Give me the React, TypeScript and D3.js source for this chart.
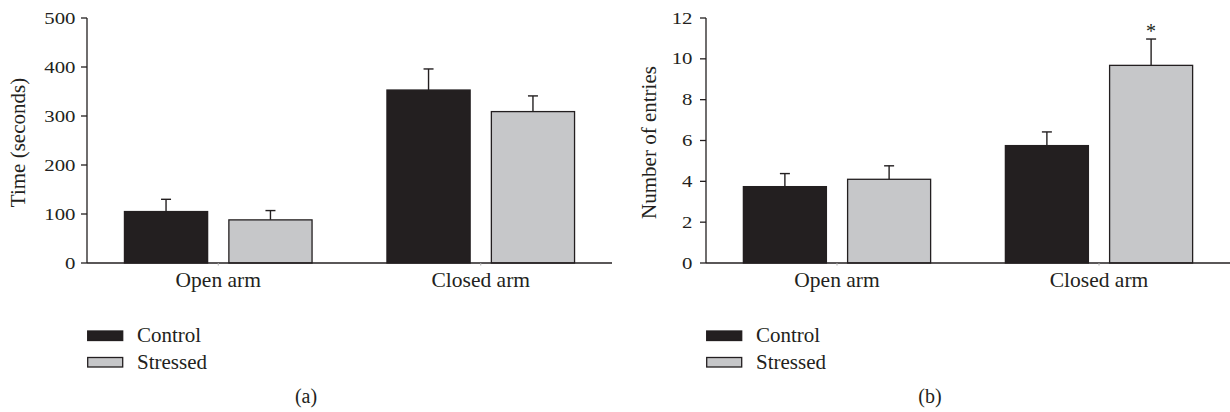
import React, { useRef, useEffect } from 'react';
import * as d3 from 'd3';

// categories / series
const categories = ['Open arm', 'Closed arm'];
const groups = ['Control', 'Stressed'];
const groupFill = ['#231f20', '#c6c7c9'];

// panel (a) time spent
const timeControl = [105, 353];
const timeControlSem = [25, 43];
const timeStressed = [88, 309];
const timeStressedSem = [19, 32];
const timeTicks = [0, 100, 200, 300, 400, 500];

// panel (b) number of entries
const entriesControl = [3.74, 5.75];
const entriesControlSem = [0.64, 0.67];
const entriesStressed = [4.1, 9.68];
const entriesStressedSem = [0.66, 1.29];
const entriesStressedMark = ['', '*'];
const entriesTicks = [0, 2, 4, 6, 8, 10, 12];

const W = 1230;
const H = 412;
const INK = '#231f20';
const FONT = '"Liberation Serif", "Times New Roman", serif';

const Chart = () => {
  const ref = useRef<HTMLDivElement>(null);

  useEffect(() => {
    document.body.style.margin = '0';

    const root = d3.select(ref.current);
    root.selectAll('*').remove();
    const svg = root
      .append('svg')
      .attr('width', W)
      .attr('height', H)
      .attr('viewBox', [0, 0, W, H])
      .style('display', 'block')
      .style('font-family', FONT);

    const yTop = 18;
    const yBottom = 263;

    const panels = [
      {
        left: 87, right: 612, ticks: timeTicks, max: 500,
        title: 'Time (seconds)', titleX: 25, labelGap: 11.5,
        letter: '(a)', letterX: 306,
        series: [
          { v: timeControl, e: timeControlSem, mark: ['', ''] },
          { v: timeStressed, e: timeStressedSem, mark: ['', ''] },
        ],
      },
      {
        left: 706, right: 1230, ticks: entriesTicks, max: 12,
        title: 'Number of entries', titleX: 656, labelGap: 13.5,
        letter: '(b)', letterX: 930,
        series: [
          { v: entriesControl, e: entriesControlSem, mark: ['', ''] },
          { v: entriesStressed, e: entriesStressedSem, mark: entriesStressedMark },
        ],
      },
    ];

    panels.forEach(p => {
      const g = svg.append('g');

      const x = d3.scaleBand<string>()
        .domain(categories)
        .range([p.left, p.right])
        .paddingInner(0.28)
        .paddingOuter(0.14);
      const xg = d3.scaleBand<string>()
        .domain(groups)
        .range([0, x.bandwidth()])
        .paddingInner(0.19);
      const y = d3.scaleLinear().domain([0, p.max]).range([yBottom, yTop]);

      // bars + error bars
      p.series.forEach((s, si) => {
        categories.forEach((c, ci) => {
          const bx = (x(c) as number) + (xg(groups[si]) as number);
          const bw = xg.bandwidth();
          const top = y(s.v[ci]);
          const errTop = y(s.v[ci] + s.e[ci]);
          const cx = bx + bw / 2;

          g.append('line')
            .attr('x1', cx).attr('x2', cx)
            .attr('y1', top).attr('y2', errTop)
            .attr('stroke', INK).attr('stroke-width', 1.4);
          g.append('line')
            .attr('x1', cx - 5).attr('x2', cx + 5)
            .attr('y1', errTop).attr('y2', errTop)
            .attr('stroke', INK).attr('stroke-width', 1.4);

          g.append('rect')
            .attr('x', bx + 0.7)
            .attr('y', top)
            .attr('width', bw - 1.4)
            .attr('height', yBottom - top)
            .attr('fill', groupFill[si])
            .attr('stroke', INK)
            .attr('stroke-width', 1.3);

          if (s.mark[ci]) {
            g.append('text')
              .attr('x', cx).attr('y', errTop - 1)
              .attr('text-anchor', 'middle')
              .attr('font-size', 20)
              .attr('fill', INK)
              .text(s.mark[ci]);
          }
        });
      });

      // y axis
      g.append('line')
        .attr('x1', p.left).attr('x2', p.left)
        .attr('y1', yTop).attr('y2', yBottom)
        .attr('stroke', INK).attr('stroke-width', 1.3);
      p.ticks.forEach(t => {
        g.append('line')
          .attr('x1', p.left - 6).attr('x2', p.left)
          .attr('y1', y(t)).attr('y2', y(t))
          .attr('stroke', INK).attr('stroke-width', 1.3);
        g.append('text')
          .attr('transform', `translate(${p.left - p.labelGap},${y(t) + 5.5}) scale(1.3,1)`)
          .attr('text-anchor', 'end')
          .attr('font-size', 16)
          .attr('fill', INK)
          .text(t);
      });

      g.append('text')
        .attr('transform', `translate(${p.titleX},${(yTop + yBottom) / 2 + 2}) rotate(-90)`)
        .attr('text-anchor', 'middle')
        .attr('font-size', 21)
        .attr('fill', INK)
        .text(p.title);

      // x axis
      g.append('line')
        .attr('x1', p.left).attr('x2', p.right)
        .attr('y1', yBottom).attr('y2', yBottom)
        .attr('stroke', INK).attr('stroke-width', 1.3);
      categories.forEach(c => {
        const cx = (x(c) as number) + x.bandwidth() / 2;
        g.append('line')
          .attr('x1', cx).attr('x2', cx)
          .attr('y1', yBottom).attr('y2', yBottom + 2.5)
          .attr('stroke', '#b0b0b0').attr('stroke-width', 1);
        g.append('text')
          .attr('x', cx).attr('y', 287)
          .attr('text-anchor', 'middle')
          .attr('font-size', 21.5)
          .attr('fill', INK)
          .text(c);
      });

      // legend
      groups.forEach((name, i) => {
        const ly = 331 + i * 26.5;
        g.append('rect')
          .attr('x', p.left + 0.7).attr('y', ly)
          .attr('width', 35).attr('height', 9.5)
          .attr('fill', groupFill[i])
          .attr('stroke', INK).attr('stroke-width', 1.3);
        g.append('text')
          .attr('x', p.left + 50).attr('y', ly + 11)
          .attr('font-size', 21)
          .attr('fill', INK)
          .text(name);
      });

      g.append('text')
        .attr('x', p.letterX).attr('y', 403)
        .attr('text-anchor', 'middle')
        .attr('font-size', 20)
        .attr('fill', INK)
        .text(p.letter);
    });
  }, []);

  return <div ref={ref} style={{ width: W, height: H }} />;
};

export default function App() {
  return <Chart />;
}
